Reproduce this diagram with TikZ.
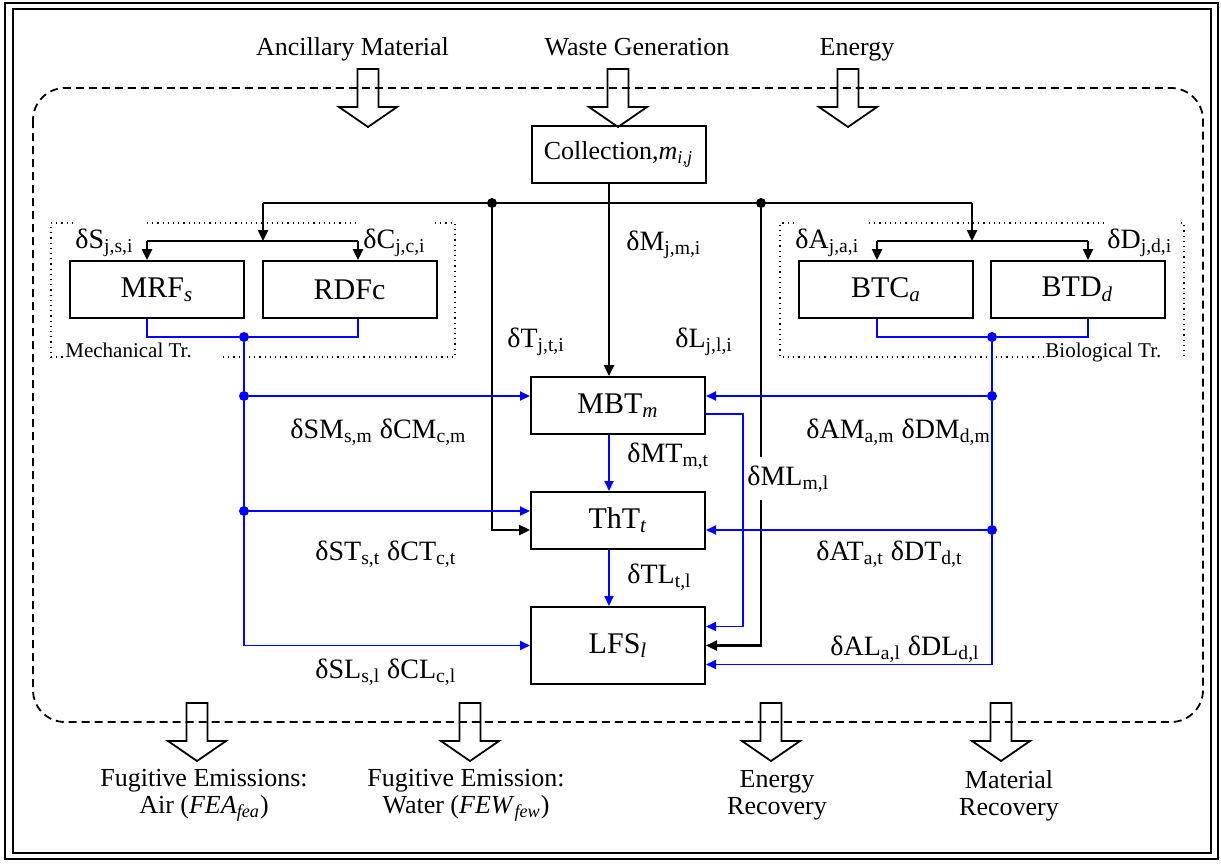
\documentclass[tikz,border=0pt]{standalone}
\usepackage{fontspec}
\setmainfont{Liberation Serif}
\usetikzlibrary{arrows.meta,positioning,calc}
\definecolor{flowblue}{HTML}{0000FF}

\tikzset{
  flowarrow/.pic={
    \draw[line width=0.9pt] (-10.5,0) -- (-10.5,38) -- (-29,38) -- (0,58)
      -- (29,38) -- (10.5,38) -- (10.5,0) -- cycle;
  }
}

\begin{document}
\begin{tikzpicture}[
      x=0.5pt, y=-0.5pt,
      box/.style      = {draw, line width=1pt, minimum width=87pt, minimum height=28.5pt,
                         inner sep=0pt, font=\fontsize{15}{17}\selectfont},
      collbox/.style  = {box, font=\fontsize{13}{15}\selectfont},
      lfsbox/.style   = {box, minimum height=38.5pt},
      lbl/.style      = {inner sep=0pt, anchor=base west, font=\fontsize{14}{16}\selectfont},
      io/.style       = {inner sep=0pt, align=center, font=\fontsize{13}{13.5}\selectfont},
      grp/.style      = {inner sep=0pt, anchor=base west, font=\fontsize{10.5}{12}\selectfont},
      kline/.style    = {line width=1.2pt},
      karr/.style     = {kline, -{Triangle[length=5.5pt,width=5pt]}},
      bline/.style    = {color=flowblue, line width=0.9pt},
      barr/.style     = {bline, -{Triangle[length=5pt,width=4.5pt]}},
      kdot/.style     = {circle, fill, inner sep=0pt, minimum size=5pt},
      bdot/.style     = {kdot, fill=flowblue},
      dotbox/.style   = {dotted, line width=0.6pt},
      boundary/.style = {dash pattern=on 4pt off 2.5pt, line width=0.9pt, rounded corners=16pt},
    ]
    \useasboundingbox (0,0) rectangle (1221,863);

    % ---- frame and system boundary ----
    \draw[line width=1.4pt] (5,3) rectangle (1218,859);
    \draw[line width=1.4pt] (13,9) rectangle (1211,853);
    \draw[boundary] (33,88) rectangle (1203,722);

    % ---- inputs ----
    \node[io, anchor=base] (anc)   at (352.5,55) {Ancillary Material};
    \node[io, anchor=base] (waste) at (637,55)   {Waste Generation};
    \node[io, anchor=base] (enin)  at (857,55)   {Energy};
    \pic at (368,69) {flowarrow};
    \pic at (618,69) {flowarrow};
    \pic at (848,69) {flowarrow};

    % ---- boxes ----
    \node[collbox] (coll) at (618.5,154.5) {Collection,\textit{m}\textsubscript{\textit{i,j}}};
    \node[box]     (mrf)  at (157,289.5)   {MRF\textsubscript{\textit{s}}};
    \node[box]     (rdf)  at (349.5,289.5) {RDFc};
    \node[box]     (btc)  at (886,289.5)   {BTC\textsubscript{\textit{a}}};
    \node[box]     (btd)  at (1077.5,289.5){BTD\textsubscript{\textit{d}}};
    \node[box]     (mbt)  at (618,405.5)   {MBT\textsubscript{\textit{m}}};
    \node[box]     (tht)  at (618,520.5)   {ThT\textsubscript{\textit{t}}};
    \node[lfsbox]  (lfs)  at (618,645.5)   {LFS\textsubscript{\textit{l}}};

    % ---- treatment groups ----
    \draw[dotbox] (73,223) -- (51,223) -- (51,357) -- (65,357);
    \draw[dotbox] (147,223) -- (360,223);
    \draw[dotbox] (435,223) -- (455,223) -- (455,357) -- (219,357);
    \node[grp] (mech) at (65,357) {Mechanical Tr.};
    \draw[dotbox] (794,223) -- (780,223) -- (780,357) -- (1043,357);
    \draw[dotbox] (869,223) -- (1106,223);
    \draw[dotbox] (1181,223) -- (1184,223) -- (1184,357) -- (1181,357);
    \node[grp] (bio) at (1045,357) {Biological Tr.};

    % ---- black distribution from collection ----
    \coordinate (axis)  at (609,0);
    \coordinate (busW)  at (263,203);
    \coordinate (busE)  at (972,203);
    \coordinate (mbus)  at (263,241);
    \coordinate (mS)    at (147,241);
    \coordinate (mC)    at (358,241);
    \coordinate (bbus)  at (972,241);
    \coordinate (bA)    at (877,241);
    \coordinate (bD)    at (1088,241);
    \node[kdot] (jT) at (492,203) {};
    \node[kdot] (jL) at (761,203) {};

    \draw[kline] (busW) -- (busE);
    \draw[karr]  (coll.south -| axis) -- (mbt.north -| axis);
    \draw[karr]  (busW) -- (mbus);
    \draw[kline] (mS) -- (mC);
    \draw[karr]  (mS) -- (mrf.north -| mS);
    \draw[karr]  (mC) -- (rdf.north -| mC);
    \draw[karr]  (busE) -- (bbus);
    \draw[kline] (bA) -- (bD);
    \draw[karr]  (bA) -- (btc.north -| bA);
    \draw[karr]  (bD) -- (btd.north -| bD);
    \draw[karr]  (jT) |- ([yshift=-4.75pt]tht.west);
    \draw[karr]  (jL) |- (lfs.east);

    % ---- blue flows, mechanical side ----
    \node[bdot] (jM)  at (244,337) {};
    \node[bdot] (jSM) at (244,396) {};
    \node[bdot] (jST) at (244,511) {};
    \draw[bline] (mrf.south -| mS) |- (jM) -| (rdf.south -| mC);
    \draw[bline] (jM) -- (jSM) -- (jST);
    \draw[barr]  (jSM) -- ([yshift=4.75pt]mbt.west);
    \draw[barr]  (jST) -- ([yshift=4.75pt]tht.west);
    \draw[barr]  (jST) |- (lfs.west);

    % ---- blue flows, biological side ----
    \node[bdot] (jB)  at (992,337) {};
    \node[bdot] (jAM) at (992,396) {};
    \node[bdot] (jAT) at (992,530) {};
    \draw[bline] (btc.south -| bA) |- (jB) -| (btd.south -| bD);
    \draw[bline] (jB) -- (jAM) -- (jAT);
    \draw[barr]  (jAM) -- ([yshift=4.75pt]mbt.east);
    \draw[barr]  (jAT) -- ([yshift=-4.75pt]tht.east);
    \draw[barr]  (jAT) |- ([yshift=-9.5pt]lfs.east);

    % ---- blue flows between MBT, ThT and LFS ----
    \coordinate (mlx) at (743,0);
    \coordinate (lfsin) at ([yshift=9.5pt]lfs.east);
    \draw[barr] (mbt.south -| axis) -- (tht.north -| axis);
    \draw[barr] (tht.south -| axis) -- (lfs.north -| axis);
    \draw[barr] ([yshift=-4.25pt]mbt.east) -| (mlx |- lfsin) -- (lfsin);

    % ---- flow labels ----
    \node[lbl] (lS)  at (75,248)   {δS\textsubscript{j,s,i}};
    \node[lbl] (lC)  at (363,248)  {δC\textsubscript{j,c,i}};
    \node[lbl] (lA)  at (795,248)  {δA\textsubscript{j,a,i}};
    \node[lbl] (lD)  at (1107,248) {δD\textsubscript{j,d,i}};
    \node[lbl] (lM)  at (626,250)  {δM\textsubscript{j,m,i}};
    \node[lbl] (lT)  at (507,347)  {δT\textsubscript{j,t,i}};
    \node[lbl] (lL)  at (675,347)  {δL\textsubscript{j,l,i}};
    \node[lbl] (lSM) at (290,438)  {δSM\textsubscript{s,m} δCM\textsubscript{c,m}};
    \node[lbl] (lMT) at (627,462)  {δMT\textsubscript{m,t}};
    \node[lbl, fill=white, inner ysep=4pt] (lML) at (747,485) {δML\textsubscript{m,l}};
    \node[lbl] (lST) at (315,560)  {δST\textsubscript{s,t} δCT\textsubscript{c,t}};
    \node[lbl] (lTL) at (627,583)  {δTL\textsubscript{t,l}};
    \node[lbl] (lSL) at (315,678)  {δSL\textsubscript{s,l} δCL\textsubscript{c,l}};
    \node[lbl] (lAM) at (806,438)  {δAM\textsubscript{a,m} δDM\textsubscript{d,m}};
    \node[lbl] (lAT) at (816,560)  {δAT\textsubscript{a,t} δDT\textsubscript{d,t}};
    \node[lbl] (lAL) at (830,655)  {δAL\textsubscript{a,l} δDL\textsubscript{d,l}};

    % ---- outputs ----
    \pic at (197,703)  {flowarrow};
    \pic at (470,703)  {flowarrow};
    \pic at (771,703)  {flowarrow};
    \pic at (1001,703) {flowarrow};
    \node[io] (fea) at (204,795.5)  {Fugitive Emissions:\\Air (\textit{FEA}\textsubscript{\textit{fea}})};
    \node[io] (few) at (466,795.5)  {Fugitive Emission:\\Water (\textit{FEW}\textsubscript{\textit{few}})};
    \node[io] (enr) at (777,795.5)  {Energy\\Recovery};
    \node[io] (mat) at (1009,795.5) {Material\\Recovery};
  \end{tikzpicture}
\end{document}
